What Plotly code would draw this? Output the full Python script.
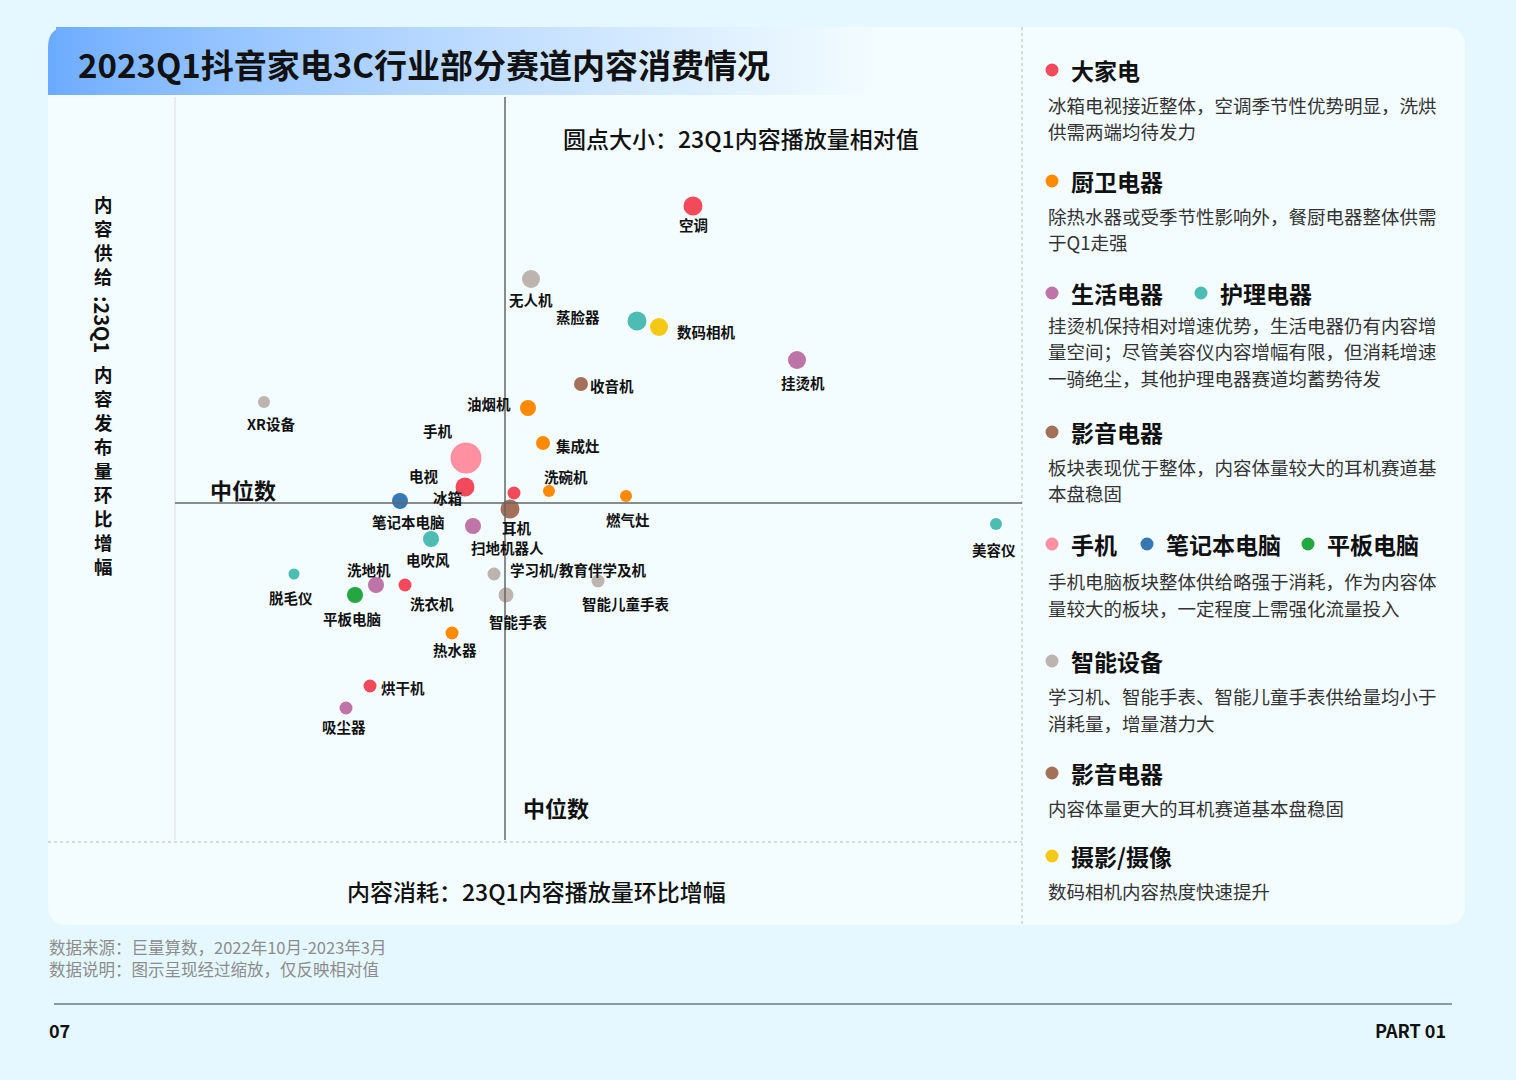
"""
2023Q1 抖音家电3C 行业部分赛道内容消费情况 - bubble quadrant chart
"""
import plotly.graph_objects as go

W, H = 1516, 1080
PAGE_BG = "#E5F8FF"
CARD_BG = "#F3FCFF"
FONT = "Noto Sans CJK SC"
INK = "#111111"

# ── Data (relative to the medians, 0 = median) ──────────────
names = ["空调", "无人机", "蒸脸器", "数码相机", "挂烫机", "收音机", "油烟机", "XR设备",
         "手机", "集成灶", "电视", "冰箱", "洗碗机", "燃气灶", "笔记本电脑", "耳机",
         "扫地机器人", "电吹风", "美容仪", "脱毛仪", "洗地机", "洗衣机", "学习机/教育伴学及机",
         "智能儿童手表", "智能手表", "平板电脑", "热水器", "烘干机", "吸尘器"]
play_growth = [18.8, 2.6, 13.2, 15.4, 29.2, 7.6, 2.3, -24.1,
               -3.9, 3.8, -4.0, 0.9, 4.4, 12.1, -10.5, 0.5,
               -3.2, -7.4, 49.1, -21.1, -12.9, -10.0, -1.1,
               9.3, 0.1, -15.0, -5.3, -13.5, -15.9]
post_growth = [29.7, 22.4, 18.2, 17.6, 14.3, 11.9, 9.5, 10.1,
               4.5, 6.0, 1.6, 1.0, 1.2, 0.7, 0.2, -0.6,
               -2.3, -3.6, -2.1, -7.1, -8.2, -8.2, -7.1,
               -7.8, -9.2, -9.2, -13.0, -18.3, -20.5]
play_volume = [19, 18, 19, 18, 18, 14, 16, 12,
               31, 14, 19, 13, 12, 12, 16, 19,
               16, 16, 12, 11, 16, 13, 13,
               13, 15, 16, 13, 13, 13]
segments = ["大家电", "智能设备", "护理电器", "摄影/摄像", "生活电器", "影音电器", "厨卫电器", "智能设备",
            "手机", "厨卫电器", "大家电", "大家电", "厨卫电器", "厨卫电器", "笔记本电脑", "影音电器",
            "生活电器", "护理电器", "护理电器", "护理电器", "生活电器", "大家电", "智能设备",
            "智能设备", "智能设备", "平板电脑", "厨卫电器", "大家电", "生活电器"]
x_median = 0
y_median = 0

COLORS = {
    "大家电": "#F24A5A", "厨卫电器": "#FF8A00", "生活电器": "#BE74A7", "护理电器": "#4DBDB3",
    "影音电器": "#A4705A", "手机": "#FF90A2", "笔记本电脑": "#3878B2", "平板电脑": "#25A640",
    "智能设备": "#BDB4AF", "摄影/摄像": "#F5C815",
}

# label offsets in pixels (dx, dy downwards) from each bubble centre
LABEL_OFFSET = {
    "空调": (0, 19), "无人机": (0, 20), "蒸脸器": (-59, -5), "数码相机": (47, 4),
    "挂烫机": (6, 22), "收音机": (31, 1), "油烟机": (-39, -5), "XR设备": (7, 21),
    "手机": (-28, -28), "集成灶": (35, 2), "电视": (-41, -12), "冰箱": (-67, 4),
    "洗碗机": (17, -15), "燃气灶": (2, 23), "笔记本电脑": (8, 20), "耳机": (7, 18),
    "扫地机器人": (34, 21), "电吹风": (-3, 20), "美容仪": (-2, 25), "脱毛仪": (-3, 23),
    "洗地机": (-7, -16), "洗衣机": (27, 18), "学习机/教育伴学及机": (84, -5),
    "智能儿童手表": (28, 22), "智能手表": (12, 26), "平板电脑": (-3, 23),
    "热水器": (3, 16), "烘干机": (33, 1), "吸尘器": (-2, 18),
}


def px(x):
    return x / W


def py(y):
    return 1 - y / H


def rounded_path(x0, y0, x1, y1, r, corners=(1, 1, 1, 1)):
    """Rounded rectangle path in paper coords; corners = (tl, tr, br, bl)."""
    tl, tr, br, bl = [r if c else 0 for c in corners]
    rx = lambda v: px(v)
    ry = lambda v: py(v)
    p = f"M {rx(x0 + tl)},{ry(y0)} L {rx(x1 - tr)},{ry(y0)} "
    if tr:
        p += f"Q {rx(x1)},{ry(y0)} {rx(x1)},{ry(y0 + tr)} "
    p += f"L {rx(x1)},{ry(y1 - br)} "
    if br:
        p += f"Q {rx(x1)},{ry(y1)} {rx(x1 - br)},{ry(y1)} "
    p += f"L {rx(x0 + bl)},{ry(y1)} "
    if bl:
        p += f"Q {rx(x0)},{ry(y1)} {rx(x0)},{ry(y1 - bl)} "
    p += f"L {rx(x0)},{ry(y0 + tl)} "
    if tl:
        p += f"Q {rx(x0)},{ry(y0)} {rx(x0 + tl)},{ry(y0)} "
    return p + "Z"


fig = go.Figure()

# ── Bubbles, one trace per segment ───────────────────────────
for seg in dict.fromkeys(segments):
    idx = [i for i, s in enumerate(segments) if s == seg]
    fig.add_trace(go.Scatter(
        x=[play_growth[i] for i in idx], y=[post_growth[i] for i in idx],
        mode="markers", name=seg,
        text=[names[i] for i in idx],
        marker=dict(size=[play_volume[i] for i in idx], sizemode="diameter",
                    color=COLORS[seg], opacity=1, line=dict(width=0)),
        hovertemplate="%{text}<extra></extra>",
    ))

for i, n in enumerate(names):
    dx, dy = LABEL_OFFSET[n]
    fig.add_annotation(x=play_growth[i], y=post_growth[i], xref="x", yref="y",
                       text=n, showarrow=False, xshift=dx, yshift=-dy,
                       font=dict(family=FONT, size=14.5, color=INK, weight="bold"))

# ── Background card and title band ──────────────────────────
shapes = [
    dict(type="path", path=rounded_path(48, 27, 1465, 925, 20), xref="paper", yref="paper",
         fillcolor=CARD_BG, line=dict(width=0), layer="below"),
]
c0, c1 = (106, 170, 255), (243, 252, 255)
x_start, x_end, n_strips = 48, 880, 104
step = (x_end - x_start) / n_strips
for k in range(n_strips):
    t = (k / (n_strips - 1)) ** 0.75
    col = "rgb({},{},{})".format(*[round(a + (b - a) * t) for a, b in zip(c0, c1)])
    xa = x_start + k * step
    xb = xa + step + 0.6
    if k == 0:
        path = rounded_path(xa, 27, xb + 20, 95, 20, corners=(1, 0, 0, 0))
    else:
        path = rounded_path(xa, 27, xb, 95, 0, corners=(0, 0, 0, 0))
    shapes.append(dict(type="path", path=path, xref="paper", yref="paper",
                       fillcolor=col, line=dict(width=0), layer="below"))

# separators
shapes += [
    dict(type="line", xref="paper", yref="paper", x0=px(1022), x1=px(1022), y0=py(27), y1=py(925),
         line=dict(color="#B8BEC2", width=1, dash="dot"), layer="below"),
    dict(type="line", xref="paper", yref="paper", x0=px(48), x1=px(1022), y0=py(842), y1=py(842),
         line=dict(color="#B8BEC2", width=1, dash="dot"), layer="below"),
    dict(type="line", xref="paper", yref="paper", x0=px(175), x1=px(175), y0=py(97), y1=py(840),
         line=dict(color="#DADFE2", width=1), layer="below"),
    dict(type="line", xref="paper", yref="paper", x0=px(54), x1=px(1452), y0=py(1004), y1=py(1004),
         line=dict(color="#8B9BA2", width=2), layer="below"),
]
fig.update_layout(shapes=shapes)

# median lines
fig.add_vline(x=x_median, line=dict(color="#666666", width=1.5))
fig.add_hline(y=y_median, line=dict(color="#666666", width=1.5))


def text(x, y, s, size, anchor="left", color=INK, weight="normal", angle=0):
    fig.add_annotation(x=px(x), y=py(y), xref="paper", yref="paper", text=s,
                       showarrow=False, xanchor=anchor, yanchor="middle", textangle=angle,
                       font=dict(family=FONT, size=size, color=color, weight=weight))


# ── Titles inside chart ─────────────────────────────────────
text(76, 64, "2023Q1抖音家电3C行业部分赛道内容消费情况", 33, weight="bold")
text(741, 138, "圆点大小：23Q1内容播放量相对值", 23, anchor="center", weight=500)
text(208, 489, "中位数", 22, weight="bold")
text(521, 807, "中位数", 22, weight="bold")
text(536, 891, "内容消耗：23Q1内容播放量环比增幅", 23, anchor="center", weight=500)

# vertical y-axis title (upright CJK stacked, rotated latin)
text(103, 240, "<br>".join("内容供给"), 18.5, anchor="center", weight="bold")
text(103, 324, ":23Q1", 20, anchor="center", weight="bold", angle=90)
text(103, 470, "<br>".join("内容发布量环比增幅"), 18.5, anchor="center", weight="bold")

# ── Right-hand commentary panel ─────────────────────────────
panel = [
    (70, [(1052, "大家电")], [(105, "冰箱电视接近整体，空调季节性优势明显，洗烘"), (131, "供需两端均待发力")]),
    (181, [(1052, "厨卫电器")], [(216, "除热水器或受季节性影响外，餐厨电器整体供需"), (242, "于Q1走强")]),
    (293, [(1052, "生活电器"), (1201, "护理电器")],
     [(325, "挂烫机保持相对增速优势，生活电器仍有内容增"), (351, "量空间；尽管美容仪内容增幅有限，但消耗增速"),
      (378, "一骑绝尘，其他护理电器赛道均蓄势待发")]),
    (432, [(1052, "影音电器")], [(467, "板块表现优于整体，内容体量较大的耳机赛道基"), (493, "本盘稳固")]),
    (544, [(1052, "手机"), (1147, "笔记本电脑"), (1308, "平板电脑")],
     [(581, "手机电脑板块整体供给略强于消耗，作为内容体"), (608, "量较大的板块，一定程度上需强化流量投入")]),
    (661, [(1052, "智能设备")], [(696, "学习机、智能手表、智能儿童手表供给量均小于"), (723, "消耗量，增量潜力大")]),
    (773, [(1052, "影音电器")], [(808, "内容体量更大的耳机赛道基本盘稳固")]),
    (856, [(1052, "摄影/摄像")], [(891, "数码相机内容热度快速提升")]),
]
dots = []
for hy, heads, body in panel:
    for dx, name in heads:
        dots.append(dict(type="circle", xref="paper", yref="paper", xsizemode="pixel", ysizemode="pixel",
                         xanchor=px(dx), yanchor=py(hy), x0=-6.5, x1=6.5, y0=-6.5, y1=6.5,
                         fillcolor=COLORS[name], line=dict(width=0)))
        text(dx + 17, hy, name, 23, weight="bold")
    for by, line in body:
        text(1046, by, line, 18.5, color="#333333")
fig.update_layout(shapes=list(fig.layout.shapes) + dots)

# ── Footer ──────────────────────────────────────────────────
text(47, 947, "数据来源：巨量算数，2022年10月-2023年3月", 16.5, color="#8C8C8C")
text(47, 969, "数据说明：图示呈现经过缩放，仅反映相对值", 16.5, color="#8C8C8C")
text(47, 1030, "07", 18, weight="bold")
text(1448, 1030, "PART 01", 18, anchor="right", weight="bold")

# ── Layout ──────────────────────────────────────────────────
fig.update_layout(
    width=W, height=H, autosize=False,
    paper_bgcolor=PAGE_BG, plot_bgcolor="rgba(0,0,0,0)",
    margin=dict(l=0, r=0, t=0, b=0, pad=0),
    showlegend=False,
    font=dict(family=FONT, color=INK),
    xaxis=dict(domain=[px(175), px(1022)], range=[-33.0, 51.7], visible=False, fixedrange=True),
    yaxis=dict(domain=[py(840), py(97)], range=[-33.7, 40.6], visible=False, fixedrange=True),
    hovermode="closest",
)

fig.write_html("out.html", config={"displayModeBar": False},
               post_script="document.body.style.margin='0';document.body.style.overflow='hidden';")
